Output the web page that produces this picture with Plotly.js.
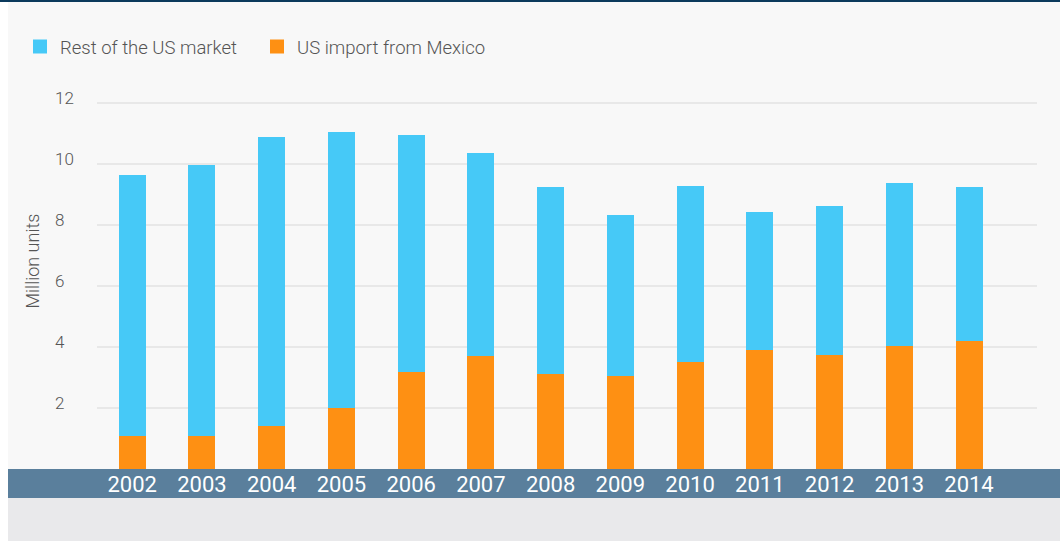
<!DOCTYPE html>
<html>
<head>
<meta charset="utf-8">
<script src="https://cdn.plot.ly/plotly-3.0.1.min.js"></script>
<style>
  html, body { margin: 0; padding: 0; background: #ffffff; }
  #chart { width: 1060px; height: 541px; }
</style>
</head>
<body>
<div id="chart"></div>
<script>
// ---- data (million units) ----
var years = ['2002','2003','2004','2005','2006','2007','2008','2009','2010','2011','2012','2013','2014'];
var importMexico = [1.13, 1.13, 1.44, 2.05, 3.21, 3.74, 3.15, 3.08, 3.56, 3.95, 3.76, 4.06, 4.22];
var restOfUS = [8.50, 8.83, 9.41, 8.99, 7.73, 6.61, 6.09, 5.21, 5.71, 4.44, 4.85, 5.31, 5.02];
var yTickVals = [2, 4, 6, 8, 10, 12];
var yTickText = ['2', '4', '6', '8', '10', '12'];
var seriesNames = ['US import from Mexico', 'Rest of the US market'];
var yAxisTitle = 'Million units';

// ---- style ----
var W = 1060, H = 541;
var M = { l: 97, r: 23, t: 73, b: 72 };
var plotW = W - M.l - M.r, plotH = H - M.t - M.b;
function px2paperX(px) { return (px - M.l) / plotW; }
function px2paperY(py) { return (H - M.b - py) / plotH; }

var orange = '#fe9013', blue = '#46c9f7';
var labelColor = '#555555';

var traces = [
  { type: 'bar', name: seriesNames[0], x: years, y: importMexico, width: 0.3585,
    marker: { color: orange, line: { color: orange, width: 2 } }, hoverinfo: 'x+y+name' },
  { type: 'bar', name: seriesNames[1], x: years, y: restOfUS, width: 0.3585,
    marker: { color: blue, line: { color: blue, width: 2 } }, hoverinfo: 'x+y+name' }
];

var annotations = yTickVals.map(function (v, i) {
  return { xref: 'paper', yref: 'y', x: px2paperX(53), y: v, xanchor: 'left', yanchor: 'middle',
    yshift: 5, showarrow: false, text: yTickText[i],
    font: { family: 'Roboto', size: 17, color: labelColor, weight: 300 } };
});
annotations.push({ xref: 'paper', yref: 'paper', x: px2paperX(31.5), y: px2paperY(261),
  xanchor: 'center', yanchor: 'middle', showarrow: false, textangle: -90, text: yAxisTitle,
  font: { family: 'Roboto', size: 18, color: labelColor, weight: 300 } });

var shapes = [
  // light panel
  { type: 'rect', xref: 'paper', yref: 'paper', layer: 'below',
    x0: px2paperX(8), x1: px2paperX(1060), y0: px2paperY(541), y1: px2paperY(0),
    fillcolor: '#f8f8f8', line: { width: 0 } },
  // axis band
  { type: 'rect', xref: 'paper', yref: 'paper', layer: 'below',
    x0: px2paperX(8), x1: px2paperX(1060), y0: px2paperY(498), y1: px2paperY(469),
    fillcolor: '#5a7f9c', line: { width: 0 } },
  // bottom grey strip
  { type: 'rect', xref: 'paper', yref: 'paper', layer: 'below',
    x0: px2paperX(8), x1: px2paperX(1060), y0: px2paperY(541), y1: px2paperY(498),
    fillcolor: '#e9e9eb', line: { width: 0 } },
  // top dark line
  { type: 'rect', xref: 'paper', yref: 'paper', layer: 'below',
    x0: px2paperX(0), x1: px2paperX(1060), y0: px2paperY(2), y1: px2paperY(0),
    fillcolor: '#0b3a5c', line: { width: 0 } }
];

var layout = {
  width: W, height: H,
  margin: M,
  paper_bgcolor: '#ffffff',
  plot_bgcolor: 'rgba(0,0,0,0)',
  barmode: 'stack',
  showlegend: true,
  legend: {
    orientation: 'h', traceorder: 'reversed',
    x: px2paperX(20), xanchor: 'left',
    y: px2paperY(47), yanchor: 'middle',
    font: { family: 'Roboto', size: 18.5, color: labelColor, weight: 300 },
    bgcolor: 'rgba(0,0,0,0)', borderwidth: 0,
    entrywidth: 192
  },
  xaxis: {
    type: 'category', range: [-0.505, 12.975],
    showgrid: false, zeroline: false, showline: false, ticks: '',
    tickfont: { family: 'Roboto', size: 22, color: '#ffffff' },
    ticklabelstandoff: 0
  },
  yaxis: {
    range: [0, 13], tickvals: yTickVals, showticklabels: false,
    showgrid: true, gridcolor: '#e8e8e8', gridwidth: 2,
    zeroline: false, showline: false, ticks: ''
  },
  shapes: shapes,
  annotations: annotations
};

Plotly.newPlot('chart', traces, layout, { displayModeBar: false, staticPlot: true });
</script>
</body>
</html>
